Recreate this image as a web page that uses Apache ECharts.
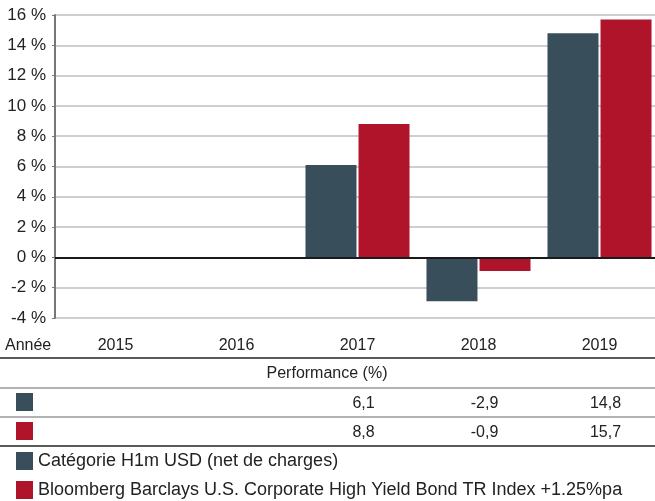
<!DOCTYPE html>
<html>
<head>
<meta charset="utf-8">
<script src="https://cdn.jsdelivr.net/npm/echarts@6/dist/echarts.min.js"></script>
<style>
html, body { margin: 0; padding: 0; background: #fff; }
#main { width: 655px; height: 501px; }
</style>
</head>
<body>
<div id="main"></div>
<script>
// données
var years = ['2015', '2016', '2017', '2018', '2019'];
var fundName = 'Catégorie H1m USD (net de charges)';
var indexName = 'Bloomberg Barclays U.S. Corporate High Yield Bond TR Index +1.25%pa';
var fundValues = [null, null, 6.1, -2.9, 14.8];
var indexValues = [null, null, 8.8, -0.9, 15.7];
var colors = ['#384f5b', '#b0142a'];

var FONT = '"Liberation Sans", Arial, sans-serif';

function fmt(v) {
	return v == null ? '' : v.toFixed(1).replace('.', ',');
}

function legendAt(top, name) {
	return {
		orient: 'vertical',
		left: 16,
		top: top,
		padding: 0,
		icon: 'rect',
		itemWidth: 17,
		itemHeight: 18,
		selectedMode: false,
		textStyle: { fontSize: 18, color: '#222', fontFamily: FONT },
		data: [name]
	};
}

var chart = echarts.init(document.getElementById('main'));
chart.setOption({
	animation: false,
	color: colors,
	textStyle: { fontFamily: FONT },
	grid: {
		left: 55,
		right: -5,
		top: 15,
		bottom: 183,
		outerBoundsMode: 'none'
	},
	legend: [legendAt(452, fundName), legendAt(481, indexName)],
	xAxis: {
		type: 'category',
		data: years,
		axisLine: { show: false },
		axisTick: { show: false },
		axisLabel: { margin: 20, fontSize: 16, color: '#222', fontFamily: FONT }
	},
	yAxis: {
		type: 'value',
		min: -4,
		max: 16,
		interval: 2,
		axisLine: { show: true, lineStyle: { color: '#777', width: 2 } },
		axisTick: { show: true, length: 3, lineStyle: { color: '#777' } },
		axisLabel: { formatter: '{value} %', fontSize: 17, color: '#222', margin: 9, fontFamily: FONT },
		splitLine: { lineStyle: { color: '#cfcfcf', width: 2 } }
	},
	series: [{
		name: fundName,
		type: 'bar',
		data: fundValues,
		barWidth: 51,
		barGap: '4%',
		markLine: {
			silent: true,
			symbol: 'none',
			label: { show: false },
			lineStyle: { color: '#1a1a1a', width: 2, type: 'solid' },
			data: [{ yAxis: 0 }]
		}
	}, {
		name: indexName,
		type: 'bar',
		data: indexValues,
		barWidth: 51
	}]
});

// tableau sous le graphique
var elems = [];
function hline(y, color) {
	elems.push({ type: 'line', shape: { x1: 0, y1: y, x2: 655, y2: y }, style: { stroke: color, lineWidth: 1.5 }, silent: true });
}
function txt(x, y, s, align) {
	elems.push({ type: 'text', x: x, y: y, style: { text: s, fill: '#222', font: '16px ' + FONT, textAlign: align || 'center', textVerticalAlign: 'middle' }, silent: true });
}
elems.push({ type: 'text', x: 5, y: 346, style: { text: 'Année', fill: '#222', font: '16px ' + FONT, textAlign: 'left', textVerticalAlign: 'middle' }, silent: true });
hline(358, '#222');
txt(327, 374, 'Performance (%)');
hline(388, '#999');
hline(417, '#999');
hline(446, '#222');
var rows = [fundValues, indexValues];
var rowY = [404, 433];
rows.forEach(function(vals, r) {
	elems.push({ type: 'rect', shape: { x: 16, y: [393, 422][r], width: 17, height: 18 }, style: { fill: colors[r] }, silent: true });
	vals.forEach(function(v, i) {
		if (v == null) return;
		var x = chart.convertToPixel({ xAxisIndex: 0 }, years[i]);
		txt(x + 6, rowY[r], fmt(v));
	});
});
chart.setOption({ graphic: elems });
</script>
</body>
</html>
